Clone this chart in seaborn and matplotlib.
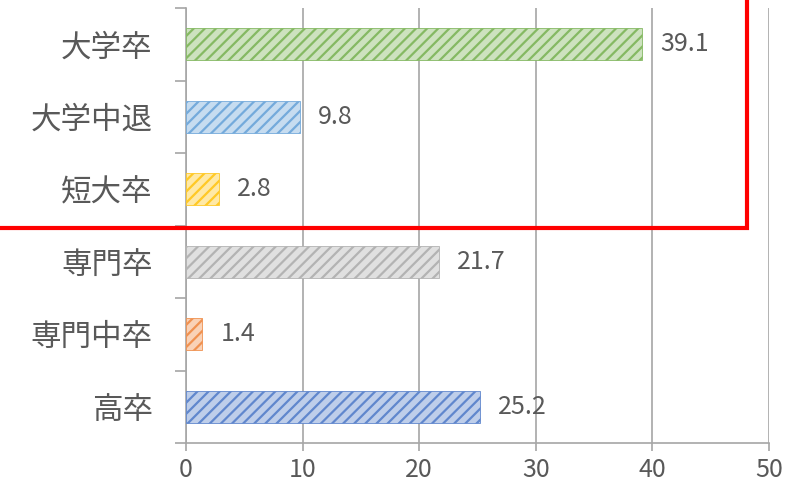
import numpy as np
import pandas as pd
import matplotlib
matplotlib.use("Agg")
import matplotlib.pyplot as plt
import matplotlib.colors as mcolors
from matplotlib.patches import Rectangle
import seaborn as sns

# data (top to bottom)
categorias = ["大学卒", "大学中退", "短大卒", "専門卒", "専門中卒", "高卒"]
valores = [39.1, 9.8, 2.8, 21.7, 1.4, 25.2]
cores = ["#70ad47", "#5b9bd5", "#ffc000", "#a5a5a5", "#ed7d31", "#4472c4"]
xticks = [0, 10, 20, 30, 40, 50]

sns.set_style("white")
plt.rcParams['font.family'] = ['Noto Sans CJK JP', 'DejaVu Sans']
plt.rcParams['hatch.linewidth'] = 1.6

texto = "#595959"
grade = "#a6a6a6"

df = pd.DataFrame({"cat": categorias, "val": valores})

fig = plt.figure(figsize=(7.9, 4.9), dpi=100)
ax = fig.add_axes([186 / 790, 1 - 443 / 490, (769 - 186) / 790, (443 - 8) / 490])

sns.barplot(data=df, x="val", y="cat", hue="cat", palette=cores, order=categorias,
            hue_order=categorias, legend=False, width=0.44, ax=ax, zorder=3)

for p, c in zip(ax.patches, cores):
    rgb = np.array(mcolors.to_rgb(c))
    p.set_facecolor(tuple(rgb * 0.35 + 0.65))
    p.set_edgecolor(tuple(rgb * 0.85 + 0.15))
    p.set_hatch("///")
    p.set_linewidth(0.6)

for cont in ax.containers:
    ax.bar_label(cont, fmt="%.1f", padding=13, fontsize=18, color=texto)

ax.set_xlim(0, 50)
ax.set_ylim(len(categorias) - 0.5, -0.5)
ax.set_xticks(xticks)
ax.set_xlabel("")
ax.set_ylabel("")

ax.grid(axis="x", color=grade, linewidth=1.2, zorder=0)
ax.grid(axis="y", visible=False)
for s in ["top", "right"]:
    ax.spines[s].set_visible(False)
for s in ["left", "bottom"]:
    ax.spines[s].set_color(grade)
    ax.spines[s].set_linewidth(1.2)

ax.set_yticks(np.arange(-0.5, len(categorias), 1), minor=True)
ax.tick_params(axis="y", which="major", length=0, pad=24, labelsize=22, labelcolor=texto)
ax.tick_params(axis="y", which="minor", length=8, color=grade, width=1.2, left=True)
ax.tick_params(axis="x", length=6, color=grade, width=1.2, pad=4, labelsize=18,
               labelcolor=texto, bottom=True)

# moldura vermelha
fig.patches.append(Rectangle((-0.02, 1 - 228 / 490), 0.02 + 747 / 790, 0.6,
                             transform=fig.transFigure, fill=False,
                             edgecolor="#ff0000", linewidth=3, zorder=10))

fig.savefig("out.png", dpi=100)
